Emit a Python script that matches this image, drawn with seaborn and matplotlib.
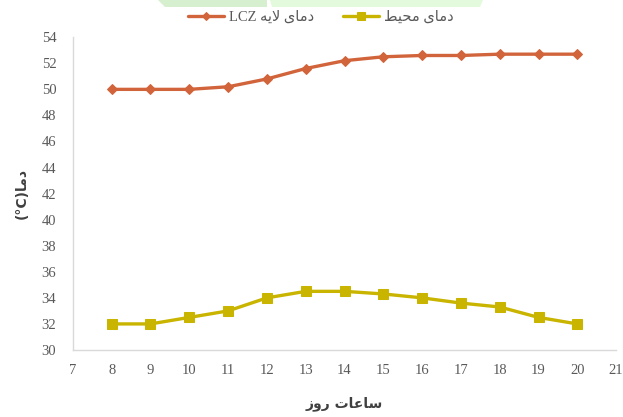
import matplotlib
matplotlib.use("Agg")
import matplotlib.pyplot as plt
from matplotlib.patches import Polygon
import pandas as pd
import seaborn as sns

# Hours of the day and measured temperatures (°C)
hours = [8, 9, 10, 11, 12, 13, 14, 15, 16, 17, 18, 19, 20]
lcz_temp = [50.0, 50.0, 50.0, 50.2, 50.8, 51.6, 52.2, 52.5, 52.6, 52.6, 52.7, 52.7, 52.7]
ambient_temp = [32.0, 32.0, 32.5, 33.0, 34.0, 34.5, 34.5, 34.3, 34.0, 33.6, 33.3, 32.5, 32.0]

x_ticks = list(range(7, 22))
y_ticks = list(range(30, 55, 2))

# Persian labels written in visual (left-to-right) order with Arabic presentation forms
label_lcz = "LCZ \uFEEA\uFEF3\uFEFB \uFEEF\uFE8E\uFEE3\uFEA9"        # دمای لایه LCZ
label_ambient = "\uFEC2\uFEF4\uFEA4\uFEE3 \uFEEF\uFE8E\uFEE3\uFEA9"  # دمای محیط
y_label = "(\u00b0C)\uFE8E\uFEE3\uFEA9"                              # دما(°C)
x_label = "\uFEAF\uFEED\uFEAD \uFE95\uFE8E\uFECB\uFE8E\uFEB3"        # ساعات روز

sns.set_style("white")
plt.rcParams["font.family"] = ["Liberation Serif", "DejaVu Sans"]

df = pd.DataFrame({"hour": hours, "lcz": lcz_temp, "ambient": ambient_temp})

fig = plt.figure(figsize=(6.23, 4.17), dpi=100)
ax = fig.add_axes([0.117, 0.1607, 0.872, 0.750])

red = "#D2643C"
yellow = "#C9B400"

sns.lineplot(data=df, x="hour", y="lcz", ax=ax, color=red, lw=2.4,
             marker="D", markersize=5.5, markeredgecolor=red, label=label_lcz)
sns.lineplot(data=df, x="hour", y="ambient", ax=ax, color=yellow, lw=2.4,
             marker="s", markersize=7.5, markeredgecolor=yellow, label=label_ambient)

ax.set_xlim(7, 21)
ax.set_ylim(30, 54)
ax.set_xticks(x_ticks)
ax.set_yticks(y_ticks)
ax.tick_params(axis="both", length=0, labelsize=10.5, labelcolor="#595959", pad=12)
ax.tick_params(axis="x", pad=10)

for side in ("top", "right"):
    ax.spines[side].set_visible(False)
for side in ("left", "bottom"):
    ax.spines[side].set_color("#D9D9D9")
    ax.spines[side].set_linewidth(1.0)

ax.set_xlabel(x_label, family=["DejaVu Sans"], fontsize=10, fontweight="bold",
              color="#404040", labelpad=14)
ax.set_ylabel(y_label, family=["DejaVu Sans"], fontsize=10, fontweight="bold",
              color="#404040", labelpad=9)

leg = ax.legend(loc="lower center", bbox_to_anchor=(0.456, 1.02), ncol=2, frameon=False,
                fontsize=10.5, handlelength=2.5, columnspacing=2.0, handletextpad=0.3,
                borderaxespad=0.1, markerscale=0.7)
for t in leg.get_texts():
    t.set_color("#595959")

# Pale green bands along the top edge
fig.patches.append(Polygon([[158, 417], [267, 417], [267, 410], [165, 410]], closed=True,
                           transform=None, facecolor="#D6EFCE", edgecolor="none"))
fig.patches.append(Polygon([[270, 417], [483, 417], [480, 410], [272, 410]], closed=True,
                           transform=None, facecolor="#E4FADC", edgecolor="none"))

fig.savefig("out.png", dpi=100)
